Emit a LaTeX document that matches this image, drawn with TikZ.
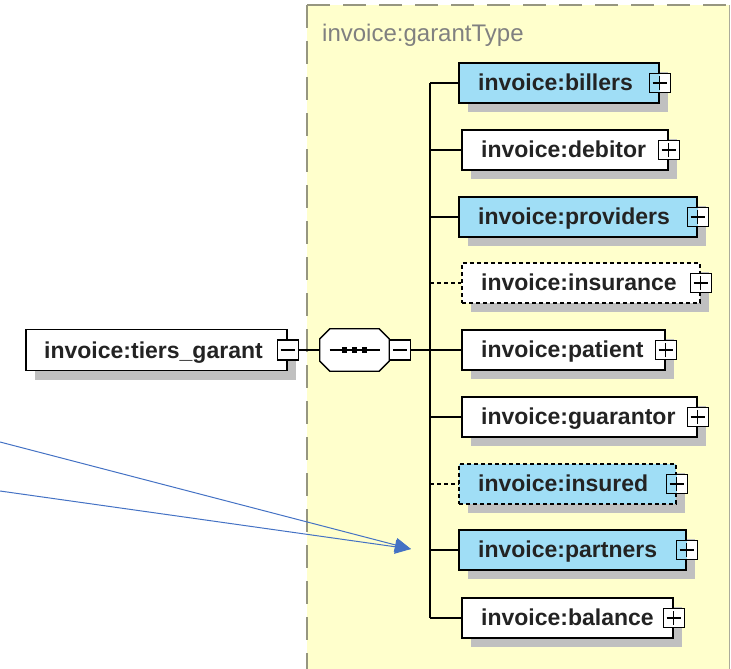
\documentclass[tikz,border=0pt]{standalone}
\usepackage{fontspec}
\setmainfont{Liberation Sans}
\usetikzlibrary{shadows,arrows.meta}
\definecolor{ylw}{RGB}{255,255,204}
\definecolor{bluef}{RGB}{160,222,246}
\definecolor{shad}{RGB}{192,192,192}
\definecolor{framec}{RGB}{150,150,128}
\definecolor{txt}{RGB}{35,35,35}
\definecolor{arrowc}{RGB}{68,114,196}
\definecolor{lbl}{RGB}{128,128,128}
\newcommand\pplus{\draw[line width=1.2pt] ([xshift=-7pt]path picture bounding box.center) -- ([xshift=7pt]path picture bounding box.center) ([yshift=-7pt]path picture bounding box.center) -- ([yshift=7pt]path picture bounding box.center);}
\newcommand\pminus{\draw[line width=1.2pt] ([xshift=-7pt]path picture bounding box.center) -- ([xshift=7pt]path picture bounding box.center);}
\newcommand\xchild[7]{%
  \node[elem,#5, minimum width=#3-#2] (#1) at ({(#2+#3)/2},#4) {};
  \node[elname] (#1t) at (#2+19,#4+7.5) {#6};
  \node[#7] (#1p) at (#1.east) {};
  \coordinate (#1j) at (430,#4);
}
\newcommand\octpath[1]{([xshift=10pt]#1.north west) -- ([xshift=-10pt]#1.north east) -- ([yshift=-10pt]#1.north east) -- ([yshift=10pt]#1.south east) -- ([xshift=-10pt]#1.south east) -- ([xshift=10pt]#1.south west) -- ([yshift=10pt]#1.south west) -- ([yshift=-10pt]#1.north west) -- cycle}
\begin{document}
\begin{tikzpicture}[x=1pt,y=-1pt,
  elem/.style={draw=black, line width=1.3pt, fill=white, minimum height=40pt, inner sep=0pt,
    general shadow={fill=shad, shadow xshift=9pt, shadow yshift=-9pt}},
  optl/.style={dash pattern=on 4pt off 3pt},
  bluebox/.style={fill=bluef},
  bluedash/.style={fill=bluef, dash pattern=on 4pt off 3pt},
  whitedash/.style={dash pattern=on 4pt off 3pt},
  plain/.style={},
  elname/.style={anchor=base west, inner sep=0pt, text=txt, font=\fontsize{23}{27}\selectfont\bfseries},
  smallbox/.style={draw=black, fill=white, line width=1.2pt, minimum width=21pt, minimum height=19pt, inner sep=0pt},
  plusbox/.style={smallbox, path picture={\pplus}},
  bplusbox/.style={smallbox, path picture={\fill[bluef] (path picture bounding box.south west) rectangle (path picture bounding box.north); \pplus}},
  minusbox/.style={smallbox, minimum height=20pt, path picture={\pminus}},
  conn/.style={draw=black, line width=1.5pt},
  arr/.style={draw=arrowc, line width=1pt, -{Triangle[length=16pt,width=14pt]}}
]
\useasboundingbox (0,0) rectangle (731,669);
% container
\fill[ylw] (307,5) rectangle (729,669);
\draw[framec, line width=2.5pt, dash pattern=on 23pt off 13pt] (307,5) -- (731,5);
\draw[framec, line width=2.5pt, dash pattern=on 23pt off 13pt] (307,5) -- (307,669);
\draw[framec!80, line width=0.8pt] (729,5) -- (729,669);
\node[anchor=base west, inner sep=0pt, text=lbl, font=\fontsize{24}{28}\selectfont] (gtype) at (322,42) {invoice:garantType};

% root element
\node[elem, minimum width=261pt, minimum height=41pt] (tiers) at (156.5,350) {};
\node[elname] (tierst) at (44,358) {invoice:tiers\_garant};
\node[minusbox] (tiersm) at (tiers.east) {};

% sequence compositor
\node[minimum width=69pt, minimum height=42pt, inner sep=0pt] (seq) at (354.5,350) {};
\fill[shad, shift={(9pt,-9pt)}] \octpath{seq};
\draw[line width=1.3pt, fill=white] \octpath{seq};
\draw[line width=1.3pt] ([xshift=-25pt]seq.center) -- ([xshift=25pt]seq.center);
\foreach \dx in {-10,0,10} \fill ([xshift=\dx pt-2.6pt, yshift=-2.6pt]seq.center) rectangle +(5.2pt,5.2pt);
\node[minusbox, anchor=west] (seqm) at (seq.east) {};
\draw[conn] (tiersm) -- (seq);

% children
\xchild{billers}{459}{659}{83}{bluebox}{invoice:billers}{bplusbox}
\xchild{debitor}{462}{668}{150}{plain}{invoice:debitor}{plusbox}
\xchild{providers}{459}{697}{217}{bluebox}{invoice:providers}{bplusbox}
\xchild{insurance}{462}{700}{283}{whitedash}{invoice:insurance}{plusbox}
\xchild{patient}{462}{665}{350}{plain}{invoice:patient}{plusbox}
\xchild{guarantor}{462}{697}{417}{plain}{invoice:guarantor}{plusbox}
\xchild{insured}{459}{676}{484}{bluedash}{invoice:insured}{bplusbox}
\xchild{partners}{459}{686}{550}{bluebox}{invoice:partners}{bplusbox}
\xchild{balance}{462}{673}{618}{plain}{invoice:balance}{plusbox}

\draw[conn] (seqm) -- (patientj);
\draw[conn] (billersj) -- (balancej);
\foreach \c in {billers,debitor,providers,patient,guarantor,partners,balance}
  \draw[conn] (\c j) -- (\c);
\foreach \c in {insurance,insured}
  \draw[conn, optl] (\c j) -- (\c);

% annotation arrows
\coordinate (s1) at (0,442);
\coordinate (s2) at (0,491);
\coordinate (tip) at (411,549);
\draw[arr] (s1) -- (tip);
\draw[arr] (s2) -- (tip);
\end{tikzpicture}
\end{document}
